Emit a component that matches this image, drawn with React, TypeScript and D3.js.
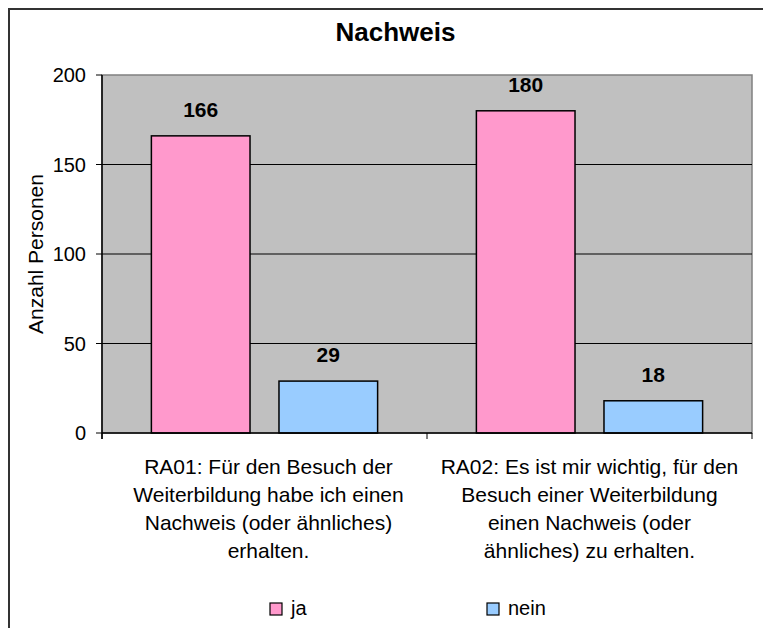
import React, { useEffect, useRef } from 'react';
import * as d3 from 'd3';

// chart data
const categories = ['RA01', 'RA02'];
const categoryLines: string[][] = [
  ['RA01: Für den Besuch der', 'Weiterbildung habe ich einen', 'Nachweis (oder ähnliches)', 'erhalten.'],
  ['RA02: Es ist mir wichtig, für den', 'Besuch einer Weiterbildung', 'einen Nachweis (oder', 'ähnliches) zu erhalten.'],
];
const seriesNames = ['ja', 'nein'];
const jaValues = [166, 180];
const neinValues = [29, 18];
const yTicks = [0, 50, 100, 150, 200];
const seriesColors = ['#FF99CC', '#99CCFF'];

const FONT = "'Liberation Sans', Arial, sans-serif";

const App: React.FC = () => {
  const ref = useRef<SVGSVGElement>(null);

  useEffect(() => {
    const width = 763;
    const height = 628;
    const plot = { left: 102, right: 752, top: 75, bottom: 433 };

    const svg = d3.select(ref.current)
      .attr('width', width)
      .attr('height', height);
    svg.selectAll('*').remove();

    // outer chart frame (extends beyond the visible window)
    svg.append('rect')
      .attr('x', 9).attr('y', 9)
      .attr('width', 820).attr('height', 700)
      .attr('fill', '#fff')
      .attr('stroke', '#333')
      .attr('stroke-width', 2);

    const x = d3.scaleBand<string>()
      .domain(categories)
      .range([plot.left, plot.right]);

    const xs = d3.scaleBand<string>()
      .domain(seriesNames)
      .range([0, x.bandwidth()])
      .paddingInner(0.227)
      .paddingOuter(0.387);

    const y = d3.scaleLinear()
      .domain([0, 200])
      .range([plot.bottom, plot.top]);

    // plot area
    svg.append('rect')
      .attr('x', plot.left).attr('y', plot.top)
      .attr('width', plot.right - plot.left)
      .attr('height', plot.bottom - plot.top)
      .attr('fill', '#C0C0C0')
      .attr('stroke', '#808080')
      .attr('stroke-width', 1.5);

    // gridlines
    svg.append('g')
      .selectAll('line')
      .data(yTicks.filter(t => t > 0 && t < 200))
      .join('line')
      .attr('x1', plot.left).attr('x2', plot.right)
      .attr('y1', d => y(d)).attr('y2', d => y(d))
      .attr('stroke', '#000')
      .attr('stroke-width', 1);

    const seriesValues = [jaValues, neinValues];
    const bars = categories.flatMap((c, i) =>
      seriesNames.map((s, j) => ({ c, s, j, v: seriesValues[j][i] })));

    svg.append('g')
      .selectAll('rect')
      .data(bars)
      .join('rect')
      .attr('x', d => (x(d.c) ?? 0) + (xs(d.s) ?? 0))
      .attr('y', d => y(d.v))
      .attr('width', xs.bandwidth())
      .attr('height', d => y(0) - y(d.v))
      .attr('fill', d => seriesColors[d.j])
      .attr('stroke', '#000')
      .attr('stroke-width', 1.5);

    svg.append('g')
      .selectAll('text')
      .data(bars)
      .join('text')
      .attr('x', d => (x(d.c) ?? 0) + (xs(d.s) ?? 0) + xs.bandwidth() / 2)
      .attr('y', d => y(d.v) - 19)
      .attr('text-anchor', 'middle')
      .attr('font-family', FONT)
      .attr('font-size', 21)
      .attr('font-weight', 'bold')
      .text(d => d.v);

    // y axis
    const yAxis = svg.append('g');
    yAxis.append('line')
      .attr('x1', plot.left).attr('x2', plot.left)
      .attr('y1', plot.top).attr('y2', plot.bottom + 6)
      .attr('stroke', '#000').attr('stroke-width', 1.5);
    yAxis.selectAll('line.tick')
      .data(yTicks)
      .join('line')
      .attr('class', 'tick')
      .attr('x1', plot.left - 6).attr('x2', plot.left)
      .attr('y1', d => y(d)).attr('y2', d => y(d))
      .attr('stroke', '#000').attr('stroke-width', 1);
    yAxis.selectAll('text')
      .data(yTicks)
      .join('text')
      .attr('x', 86)
      .attr('y', d => y(d) + 7)
      .attr('text-anchor', 'end')
      .attr('font-family', FONT)
      .attr('font-size', 20)
      .text(d => d);

    // x axis
    const xAxis = svg.append('g');
    xAxis.append('line')
      .attr('x1', plot.left).attr('x2', plot.right)
      .attr('y1', plot.bottom).attr('y2', plot.bottom)
      .attr('stroke', '#000').attr('stroke-width', 1.5);
    const bounds = [...categories.map(c => x(c) ?? 0), plot.right];
    xAxis.selectAll('line.tick')
      .data(bounds)
      .join('line')
      .attr('class', 'tick')
      .attr('x1', d => d).attr('x2', d => d)
      .attr('y1', plot.bottom).attr('y2', plot.bottom + 6)
      .attr('stroke', '#000').attr('stroke-width', 1);
    categories.forEach((c, i) => {
      const t = xAxis.append('text')
        .attr('text-anchor', 'middle')
        .attr('font-family', FONT)
        .attr('font-size', 21);
      categoryLines[i].forEach((line, k) => {
        t.append('tspan')
          .attr('x', (x(c) ?? 0) + x.bandwidth() / 2 + (i === 0 ? 4 : 0))
          .attr('y', 474 + k * 28)
          .text(line);
      });
    });

    // axis title
    svg.append('text')
      .attr('transform', 'translate(43,254) rotate(-90)')
      .attr('text-anchor', 'middle')
      .attr('font-family', FONT)
      .attr('font-size', 21)
      .text('Anzahl Personen');

    // chart title
    svg.append('text')
      .attr('x', 395.5).attr('y', 41)
      .attr('text-anchor', 'middle')
      .attr('font-family', FONT)
      .attr('font-size', 26)
      .attr('font-weight', 'bold')
      .text('Nachweis');

    // legend
    const legendX = [270, 487];
    const legend = svg.append('g');
    seriesNames.forEach((s, j) => {
      legend.append('rect')
        .attr('x', legendX[j]).attr('y', 603)
        .attr('width', 12).attr('height', 12)
        .attr('fill', seriesColors[j])
        .attr('stroke', '#000')
        .attr('stroke-width', 1.2);
      legend.append('text')
        .attr('x', legendX[j] + 21).attr('y', 615)
        .attr('font-family', FONT)
        .attr('font-size', 20)
        .text(s);
    });
  }, []);

  return (
    <svg ref={ref} style={{ position: 'absolute', left: 0, top: 0 }} />
  );
};

export default App;
